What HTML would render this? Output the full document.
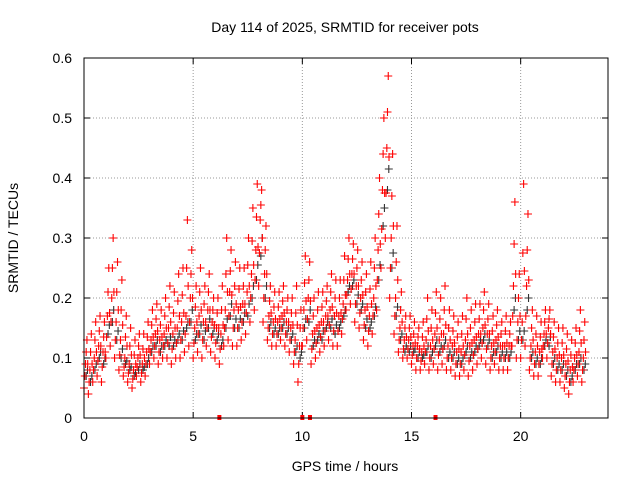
<!DOCTYPE html>
<html><head><meta charset="utf-8"><style>
body{margin:0;background:#fff}
svg{display:block;font-family:"Liberation Sans",sans-serif}
</style></head><body>
<svg id="chart" width="640" height="480" viewBox="0 0 640 480">
<text x="345" y="32" font-size="14" text-anchor="middle">Day 114 of 2025, SRMTID for receiver pots</text>
<text transform="translate(18,238) rotate(-90)" font-size="14" text-anchor="middle">SRMTID / TECUs</text>
<text x="345" y="471" font-size="14" text-anchor="middle">GPS time / hours</text>
<g id="grid"></g>
<g id="marks"></g>
<rect x="84" y="58" width="524" height="360" fill="none" stroke="#000" stroke-width="1"/>
</svg>
<script>
const xTicks=[0,5,10,15,20];
const yTicks=[0,0.1,0.2,0.3,0.4,0.5,0.6];
const yTickLabels=["0","0.1","0.2","0.3","0.4","0.5","0.6"];
const redLow=[.05,.04,.06,.07,.06,.1,.12,.1,.08,.07,.06,.05,.07,.06,.07,.09,.1,.09,.1,.1,.09,.1,.1,.11,.12,.1,.11,.1,.12,.11,.1,.09,.12,.13,.12,.12,.13,.14,.16,.18,.22,.16,.13,.12,.12,.13,.12,.11,.09,.06,.12,.13,.09,.1,.11,.12,.13,.12,.12,.14,.18,.19,.16,.15,.13,.12,.14,.18,.25,.3,.2,.14,.11,.1,.1,.09,.08,.08,.09,.08,.09,.08,.09,.08,.08,.07,.07,.08,.07,.08,.09,.1,.09,.08,.09,.08,.08,.08,.12,.1,.1,.12,.08,.07,.07,.1,.1,.07,.06,.06,.05,.04,.06,.07,.06];
const redMid=[.09,.08,.1,.12,.11,.17,.2,.16,.13,.1,.09,.08,.1,.09,.11,.13,.14,.13,.14,.15,.14,.15,.16,.17,.2,.15,.17,.16,.18,.16,.15,.14,.18,.21,.18,.18,.19,.21,.24,.28,.33,.24,.17,.16,.16,.17,.16,.15,.13,.12,.18,.2,.14,.15,.16,.17,.18,.17,.17,.19,.23,.24,.22,.2,.18,.17,.2,.28,.38,.45,.3,.2,.15,.13,.13,.12,.12,.11,.13,.12,.14,.13,.14,.12,.12,.11,.11,.13,.12,.13,.14,.15,.14,.12,.13,.12,.12,.12,.22,.16,.16,.22,.12,.11,.11,.14,.15,.11,.1,.1,.09,.08,.1,.11,.1];
const redHigh=[.13,.14,.16,.17,.16,.25,.3,.26,.23,.17,.15,.13,.14,.14,.16,.18,.19,.18,.2,.22,.21,.24,.25,.33,.28,.22,.25,.22,.24,.2,.2,.22,.3,.28,.26,.25,.25,.3,.35,.39,.38,.32,.22,.21,.21,.22,.2,.2,.22,.18,.27,.26,.2,.21,.21,.22,.24,.23,.23,.27,.3,.29,.28,.26,.24,.26,.3,.4,.5,.57,.44,.32,.21,.17,.17,.16,.15,.16,.2,.18,.21,.2,.22,.18,.17,.16,.17,.2,.18,.19,.19,.21,.19,.17,.18,.16,.17,.16,.36,.24,.39,.34,.18,.17,.16,.18,.18,.16,.15,.15,.14,.13,.15,.18,.16];
const blackVals=[.07,.06,.08,.1,.09,.14,.16,.13,.1,.09,.08,.07,.08,.08,.09,.11,.12,.11,.12,.12,.12,.13,.13,.15,.16,.13,.14,.13,.15,.14,.13,.12,.15,.17,.15,.15,.16,.17,.2,.23,.27,.2,.15,.14,.14,.15,.14,.13,.11,.1,.15,.16,.12,.13,.13,.15,.15,.14,.15,.17,.21,.22,.19,.18,.15,.15,.17,.23,.32,.38,.25,.17,.13,.11,.11,.11,.1,.1,.11,.1,.12,.11,.12,.1,.1,.09,.09,.11,.1,.11,.12,.13,.12,.1,.11,.1,.1,.1,.18,.13,.13,.18,.1,.09,.09,.12,.12,.09,.08,.08,.07,.06,.08,.09,.08];
const gapHours=[6.2,10.0,10.35,16.1];
const step=0.2;
const X=h=>84+h*(524/24), Y=v=>418-v*600;
const NS="http://www.w3.org/2000/svg";
const grid=document.getElementById('grid'), marks=document.getElementById('marks');
function mk(tag,attrs,parent){const e=document.createElementNS(NS,tag);for(const k in attrs)e.setAttribute(k,attrs[k]);parent.appendChild(e);return e;}
yTicks.forEach((v,i)=>{
  const y=Y(v);
  if(v>0&&v<0.6){const l=mk('line',{x1:84,x2:608,y1:y,y2:y,stroke:'#999','stroke-dasharray':'1,2'},grid);
  
  }
  mk('line',{x1:84,x2:90,y1:y,y2:y,stroke:'#000'},grid);
  mk('line',{x1:602,x2:608,y1:y,y2:y,stroke:'#000'},grid);
  const t=mk('text',{x:72,y:y+5,'font-size':14,'text-anchor':'end'},grid);t.textContent=yTickLabels[i];
  
  
});
xTicks.forEach(h=>{
  const x=X(h);
  if(h>0){const l=mk('line',{x1:x,x2:x,y1:58,y2:418,stroke:'#999','stroke-dasharray':'1,2'},grid);
  
  }
  mk('line',{x1:x,x2:x,y1:412,y2:418,stroke:'#000'},grid);
  mk('line',{x1:x,x2:x,y1:58,y2:64,stroke:'#000'},grid);
  const t=mk('text',{x:x,y:441,'font-size':14,'text-anchor':'middle'},grid);t.textContent=String(h);
  
  
});
function plus(h,v,c){
  const x=X(h),y=Y(v);
  const p=mk('path',{d:`M${x-4},${y}h8M${x},${y-4}v8`,stroke:c,'stroke-width':1.1},marks);
  
  
}
blackVals.forEach((v,i)=>{plus(i*step+0.1,v,'#333');plus(i*step+0.16,(v+redMid[i])/2,'#333');});
redLow.forEach((v,i)=>{
  const m=redMid[i],hi=redHigh[i],t=i*step;
  plus(t,v,'#f00');
  plus(t+0.035,(v+m)/2,'#f00');
  plus(t+0.07,m,'#f00');
  plus(t+0.1,(m+hi)/2,'#f00');
  plus(t+0.135,hi,'#f00');
  plus(t+0.17,(v+hi)/2,'#f00');
});
gapHours.forEach(h=>{
  const r=mk('rect',{x:X(h)-2,y:415,width:4,height:5,fill:'#f00'},marks);
  
  
});
</script>
</body></html>
